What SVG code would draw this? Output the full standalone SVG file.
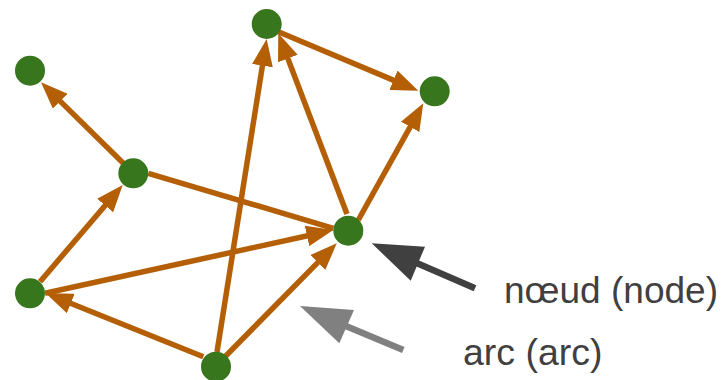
<svg xmlns="http://www.w3.org/2000/svg" width="723" height="380" viewBox="0 0 723 380">
  <style>
    .edge { stroke: #b45f06; stroke-width: 5.5; fill: none; marker-end: url(#ah); }
    .plain { stroke: #b45f06; stroke-width: 5.5; fill: none; }
    .node { fill: #38761d; }
    .label { font-family: "Liberation Sans", Arial, sans-serif; font-size: 37.5px; fill: #404040; }
  </style>
  <defs>
    <marker id="ah" markerUnits="userSpaceOnUse" markerWidth="27" markerHeight="21" viewBox="0 -10.5 27 21" refX="3" refY="0" orient="auto">
      <path d="M0,-10.5 L27,0 L0,10.5 z" fill="#b45f06"/>
    </marker>
  </defs>
  <rect width="723" height="380" fill="#ffffff"/>
  <g id="connectors">
    <line class="edge" x1="123.3" y1="163.3" x2="58.1" y2="99.1"/>
    <line class="edge" x1="278.3" y1="31.7" x2="396.2" y2="81.4"/>
    <line class="edge" x1="347" y1="214" x2="286.8" y2="55.7"/>
    <line class="edge" x1="217" y1="352" x2="262.9" y2="62.7"/>
    <line class="edge" x1="358.3" y1="220" x2="411.6" y2="124.3"/>
    <line class="edge" x1="40" y1="281.7" x2="107.1" y2="203.2"/>
    <line class="edge" x1="203.3" y1="356.7" x2="68" y2="302.3"/>
    <line class="edge" x1="45" y1="293.3" x2="309.9" y2="235.2"/>
    <line class="edge" x1="225" y1="356.7" x2="319.9" y2="260.4"/>
    <line class="plain" x1="148.3" y1="173.3" x2="333.3" y2="228.3"/>
  </g>
  <g id="node-a"><circle class="node" cx="266.7" cy="24" r="15"/></g>
  <g id="node-b"><circle class="node" cx="30" cy="70.7" r="15"/></g>
  <g id="node-c"><circle class="node" cx="434.7" cy="91.3" r="15"/></g>
  <g id="node-d"><circle class="node" cx="133.3" cy="173.3" r="15"/></g>
  <g id="node-e"><circle class="node" cx="348.3" cy="230.7" r="15"/></g>
  <g id="node-f"><circle class="node" cx="30" cy="293.3" r="15"/></g>
  <g id="node-g"><circle class="node" cx="216" cy="366.7" r="15"/></g>
  <g id="annotation-node">
    <line x1="412" y1="261" x2="475" y2="288.3" stroke="#404040" stroke-width="6.7"/>
    <polygon points="371.7,243.3 425,246.7 410.7,280.7" fill="#404040"/>
    <text class="label" x="504" y="303" textLength="214" lengthAdjust="spacingAndGlyphs">nœud (node)</text>
  </g>
  <g id="annotation-arc">
    <line x1="341" y1="324" x2="403.3" y2="350" stroke="#808080" stroke-width="6.7"/>
    <polygon points="300,306 354,310 339.3,343.3" fill="#808080"/>
    <text class="label" x="463" y="365" textLength="139.5" lengthAdjust="spacingAndGlyphs">arc (arc)</text>
  </g>
</svg>
